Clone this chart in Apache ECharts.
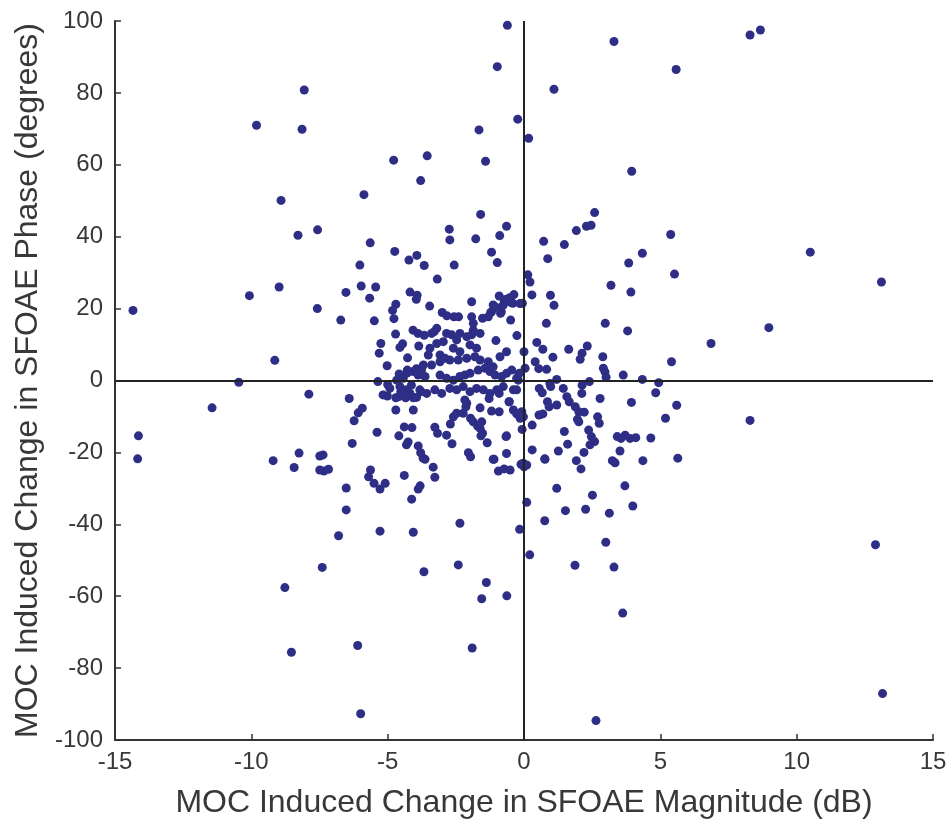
<!DOCTYPE html>
<html>
<head>
<meta charset="utf-8">
<title>MOC induced change in SFOAE</title>
<script src="https://cdn.jsdelivr.net/npm/echarts@6/dist/echarts.min.js"></script>
<style>
  html, body { margin: 0; padding: 0; background: #fff; }
  #chart { width: 952px; height: 827px; }
</style>
</head>
<body>
<div id="chart"></div>
<script>
// Axis titles
const xTitle = 'MOC Induced Change in SFOAE Magnitude (dB)';
const yTitle = 'MOC Induced Change in SFOAE Phase (degrees)';

// Axis ranges
const xRange = [-15, 15, 5];
const yRange = [-100, 100, 20];

// Each point: [magnitude change (dB), phase change (degrees)]
const outerPoints = [
  [-8.06,80.8],[-9.81,71.0],[-8.14,69.9],[-8.91,50.1],[-8.29,40.4],[-7.57,41.9],
  [-0.61,98.8],[-0.98,87.3],[1.10,81.0],[3.30,94.3],[-0.23,72.7],[0.17,67.4],[-1.65,69.7],
  [-1.41,61.0],[-4.78,61.3],[-3.55,62.5],[-3.79,55.6],[-5.87,51.7],[-1.59,46.2],[2.59,46.7],
  [2.46,43.2],[2.29,42.9],[1.92,41.7],[1.48,37.8],[0.72,38.7],[0.87,33.9],[-0.64,42.9],
  [-0.89,40.3],[-1.77,39.4],[-1.19,35.7],[-0.98,32.8],[-2.74,42.1],[-2.72,39.1],[-2.56,32.1],
  [-3.93,34.8],[-4.22,33.5],[-3.66,32.0],[-4.74,35.9],[-5.64,38.3],[-6.02,32.1],[0.14,29.4],
  [-3.18,28.2],[8.29,96.1],[8.67,97.5],[5.58,86.5],[3.95,58.2],[5.38,40.6],[4.34,35.4],
  [3.84,32.7],[5.52,29.6],[10.50,35.7],[13.11,27.4],
  [3.92,24.6],[3.80,13.8],[8.98,14.7],[6.86,10.3],[5.41,5.2],[3.64,1.5],[4.34,0.3],[4.94,-0.6],
  [4.83,-3.4],[3.94,-6.1],[5.60,-6.9],[5.19,-10.5],[8.29,-11.1],[3.71,-15.2],[3.89,-16.1],
  [4.10,-15.9],[4.65,-16.0],[3.56,-16.1],[3.52,-19.6],[4.36,-22.3],[5.64,-21.6],[3.70,-29.3],
  [3.99,-34.9],[12.89,-45.7],[3.62,-64.7],[13.15,-87.1],
  [-7.40,-52.0],[-3.67,-53.2],[-2.41,-51.3],[-1.38,-56.2],[-1.55,-60.7],[-0.63,-59.9],
  [0.21,-48.5],[1.87,-51.4],[3.00,-45.0],[3.30,-51.9],[-6.10,-73.7],[-1.90,-74.4],[-5.99,-92.7],
  [2.64,-94.6],[-8.77,-57.6],[-8.53,-75.6],
  [-14.34,19.5],[-10.07,23.6],[-8.98,26.0],[-7.58,20.0],[-9.14,5.6],[-10.46,-0.5],[-7.89,-3.8],
  [-11.44,-7.6],[-14.14,-15.4],[-14.17,-21.8],[-9.20,-22.3],[-8.25,-20.2],[-8.43,-24.2],
  [-7.49,-21.0],[-7.49,-24.9]
];

const innerPoints = [
  [0.22,27.4],[3.19,26.5],[-5.97,26.3],[-5.44,26.0],[-6.53,24.5],[-5.66,22.9],[-4.18,24.6],
  [-3.92,23.7],[-3.95,22.6],[-1.92,21.9],[-0.91,23.5],[-0.73,22.4],[-0.50,21.8],[-0.37,23.9],
  [-0.53,23.0],[-0.15,21.4],[0.29,23.8],[0.97,23.7],[1.10,20.9],[-6.72,16.8],[-5.49,16.6],
  [-4.70,21.2],[-4.82,19.5],[-4.77,17.2],[-3.46,20.7],[-3.0,18.9],[-2.83,18.0],[-2.40,17.7],
  [-2.57,17.7],[-1.92,17.7],[-1.86,15.9],[-1.52,17.3],[-1.22,18.9],[-1.13,21.0],[-0.83,19.1],
  [-0.49,16.8],[-0.26,12.5],[0.82,15.9],[2.98,15.9],
  [-4.71,12.9],[-4.07,14.0],[-3.89,13.1],[-3.66,12.6],[-3.29,13.6],[-5.25,10.3],[-5.31,7.6],
  [-5.02,4.1],[-4.45,10.2],[-4.55,9.2],[-4.27,6.3],[-3.86,9.6],
  [0.47,10.6],[0.69,8.7],[1.06,6.5],[1.64,8.7],[2.13,7.6],[2.06,5.9],[2.32,9.6],[2.89,6.6],
  [2.91,3.4],[2.97,2.4],[3.01,0.9],[0.0,8.0],[0.04,3.4],[0.41,5.2],[0.54,3.3],[0.83,3.1],
  [2.40,-0.3],[1.20,0.3],[0.95,-0.8],[0.98,-1.7],[0.56,-2.2],[0.67,-3.4],[0.86,-5.9],[1.20,-6.8],
  [0.92,-7.3],[1.44,-2.2],[1.57,-4.5],[1.66,-5.9],[1.88,-7.3],[2.01,-8.7],[2.12,-3.6],[2.13,-1.3],
  [2.21,-8.8],[1.96,-10.8],[2.01,-11.5],[2.79,-5.0],[2.70,-10.1],[2.76,-11.9],[2.37,-13.8],
  [2.47,-15.6],[2.59,-17.0],[2.42,-17.9],[3.42,-15.6],[1.48,-14.2],[1.60,-17.7],[2.20,-20.0],
  [1.92,-22.3],[2.09,-24.6],[1.26,-19.6],[0.76,-21.8],[0.30,-12.4],[0.30,-19.3],[0.55,-9.6],
  [0.69,-9.3],[3.24,-22.3],[3.34,-22.9],[2.51,-31.9],[2.26,-35.8],[3.13,-36.9],[1.52,-36.2],
  [0.76,-39.0],[1.20,-30.0],[0.10,-33.9],[-0.16,-41.4],[-0.07,-13.6],[-0.03,-23.0],[0.0,-24.0],
  [-0.14,-10.5],[-0.21,0.1],[-0.27,-2.6],[-0.64,-15.4],[-0.64,-20.3],[-0.94,-25.2],[-0.73,-24.6],
  [-0.51,-24.9],[-1.10,-21.9],[-1.35,-17.3],[-1.58,-15.4],[-1.61,-13.3],[-1.70,-12.7],
  [-1.52,-14.7],[-1.55,-11.5],[-2.04,-20.1],[-1.96,-21.2],[-2.35,-39.7],[-2.64,-17.6],
  [-2.84,-15.2],[-3.17,-14.7],[-3.27,-13.0],[-2.70,-12.1],[-2.59,-10.1],[-2.47,-9.1],
  [-2.23,-9.1],[-2.13,-7.3],[-2.10,-6.3],[-2.17,-5.4],[-1.96,-10.5],[-1.86,-11.5],[-1.61,-7.6],
  [-1.28,-5.0],[-1.19,-8.5],[-0.91,-8.7],[-0.91,-3.6],[-0.54,-5.9],[-0.39,-8.2],[-0.27,-9.3],
  [-3.33,-24.1],[-3.27,-26.9],[-3.88,-18.2],[-3.79,-20.1],[-3.70,-21.6],[-3.63,-21.9],
  [-4.39,-12.9],[-4.11,-13.1],[-4.25,-17.1],[-4.31,-17.9],[-4.59,-15.4],[-4.39,-26.4],
  [-3.81,-29.3],[-3.88,-30.2],[-4.12,-33.0],[-4.06,-42.2],[-5.28,-41.9],[-5.39,-14.4],
  [-5.63,-24.9],[-5.70,-26.8],[-5.50,-28.6],[-5.28,-30.2],[-5.09,-28.6],[-4.70,-8.2],
  [-4.06,-8.2],[-5.93,-7.7],[-6.08,-9.0],[-6.23,-11.2],[-6.30,-17.5],[-6.41,-5.0],[-6.52,-29.9],
  [-6.52,-36.0],[-6.80,-43.2],[-7.37,-20.7],[-7.34,-25.2],[-7.17,-24.7],
  [-5.36,-0.3],[-5.0,-1.1],[-5.17,-4.0],[-5.01,-4.3],[-4.70,-4.8],[-4.59,-4.5],[-4.34,-4.8],
  [-4.18,-3.6],[-4.06,-4.8],[-3.94,-4.7],[-3.78,-3.1],[-4.52,-3.1],[-4.67,0.1],[-4.58,1.8],
  [-4.43,0.6],[-4.27,2.2],[-3.94,3.3],[-4.28,2.9]
];

const corePoints = [
  [-0.64,22.6],[-0.41,21.5],[-0.06,21.5],[-0.76,21.0],[-1.03,20.4],[-1.19,19.1],[-0.86,18.7],
  [-1.31,17.7],[-1.86,14.0],[-1.61,13.1],[-1.92,12.7],[-1.03,11.1],[-0.64,8.0],[-0.88,6.6],
  [-0.45,2.9],[-0.27,0.6],[-0.17,2.0],
  [-3.39,13.1],[-3.20,14.5],[-2.84,13.1],[-2.65,12.7],[-2.35,13.1],[-2.10,12.2],[-2.47,11.3],
  [-2.96,10.8],[-3.20,10.3],[-3.45,9.0],[-3.51,7.1],[-3.08,7.1],[-2.90,6.2],[-2.59,9.0],
  [-2.35,8.0],[-1.98,9.9],[-1.74,9.0],[-1.80,6.6],[-2.10,6.2],[-2.41,5.7],[-2.72,5.7],
  [-3.08,5.2],[-3.39,4.3],
  [-4.31,2.0],[-4.06,2.5],[-3.88,1.5],[-3.63,1.1],[-3.76,2.9],[-3.69,4.3],
  [-3.08,1.5],[-2.84,0.6],[-2.59,0.1],[-2.35,1.1],[-2.17,1.5],[-1.98,2.0],[-1.68,2.9],
  [-1.43,3.4],[-1.25,2.5],[-1.06,1.5],[-0.82,1.1],[-0.64,2.0],[-1.13,3.8],[-1.31,5.2],[-1.61,5.7],
  [-4.92,-2.2],[-4.55,-1.7],[-4.31,-2.6],[-4.13,-1.3],[-3.82,-2.6],[-3.57,-3.6],[-3.27,-2.6],
  [-3.02,-3.6],[-2.72,-2.2],[-2.47,-2.6],[-2.23,-1.7],[-1.98,-3.1],[-1.74,-2.2],[-1.49,-2.6],
  [-1.25,-3.6],[-1.0,-2.6],[-0.76,-1.7],[-0.39,-2.6],
  [-0.55,-5.9],[-0.08,-8.7],[-0.02,-10.1],[-0.66,-15.6],[-1.13,-21.9],[-0.11,-23.3],[0.1,-23.5],
  [0.77,-21.9]
];

const allPoints = outerPoints.concat(innerPoints, corePoints);

const FONT = '"Liberation Sans", Arial, Helvetica, sans-serif';
const TEXT = '#383838';
const AXIS = '#333333';
const DOT = '#2e2e86';

const chart = echarts.init(document.getElementById('chart'), null, { renderer: 'canvas' });

chart.setOption({
  animation: false,
  backgroundColor: '#ffffff',
  grid: { left: 115, right: 19, top: 21, bottom: 87, containLabel: false },
  xAxis: {
    type: 'value',
    min: xRange[0], max: xRange[1], interval: xRange[2],
    name: xTitle,
    nameLocation: 'middle',
    nameGap: 47,
    nameTextStyle: { fontFamily: FONT, fontSize: 32, color: TEXT },
    axisLine: { show: true, onZero: false, lineStyle: { color: AXIS, width: 2 } },
    axisTick: { show: true, inside: true, length: 6, lineStyle: { color: AXIS, width: 1.5 } },
    axisLabel: { fontFamily: FONT, fontSize: 24, color: TEXT, margin: 10 },
    splitLine: { show: false }
  },
  yAxis: {
    type: 'value',
    min: yRange[0], max: yRange[1], interval: yRange[2],
    name: yTitle,
    nameLocation: 'middle',
    nameRotate: 90,
    nameGap: 70,
    nameTextStyle: { fontFamily: FONT, fontSize: 32, color: TEXT },
    axisLine: { show: true, onZero: false, lineStyle: { color: AXIS, width: 2 } },
    axisTick: { show: true, inside: true, length: 6, lineStyle: { color: AXIS, width: 1.5 } },
    axisLabel: { fontFamily: FONT, fontSize: 24, color: TEXT, margin: 12 },
    splitLine: { show: false }
  },
  series: [{
    type: 'scatter',
    data: allPoints,
    symbol: 'circle',
    symbolSize: 9,
    itemStyle: { color: DOT, opacity: 1 },
    emphasis: { disabled: true },
    markLine: {
      silent: true,
      symbol: ['none', 'none'],
      label: { show: false },
      lineStyle: { color: '#222222', width: 2, type: 'solid' },
      data: [{ xAxis: 0 }, { yAxis: 0 }]
    }
  }]
});
</script>
</body>
</html>
